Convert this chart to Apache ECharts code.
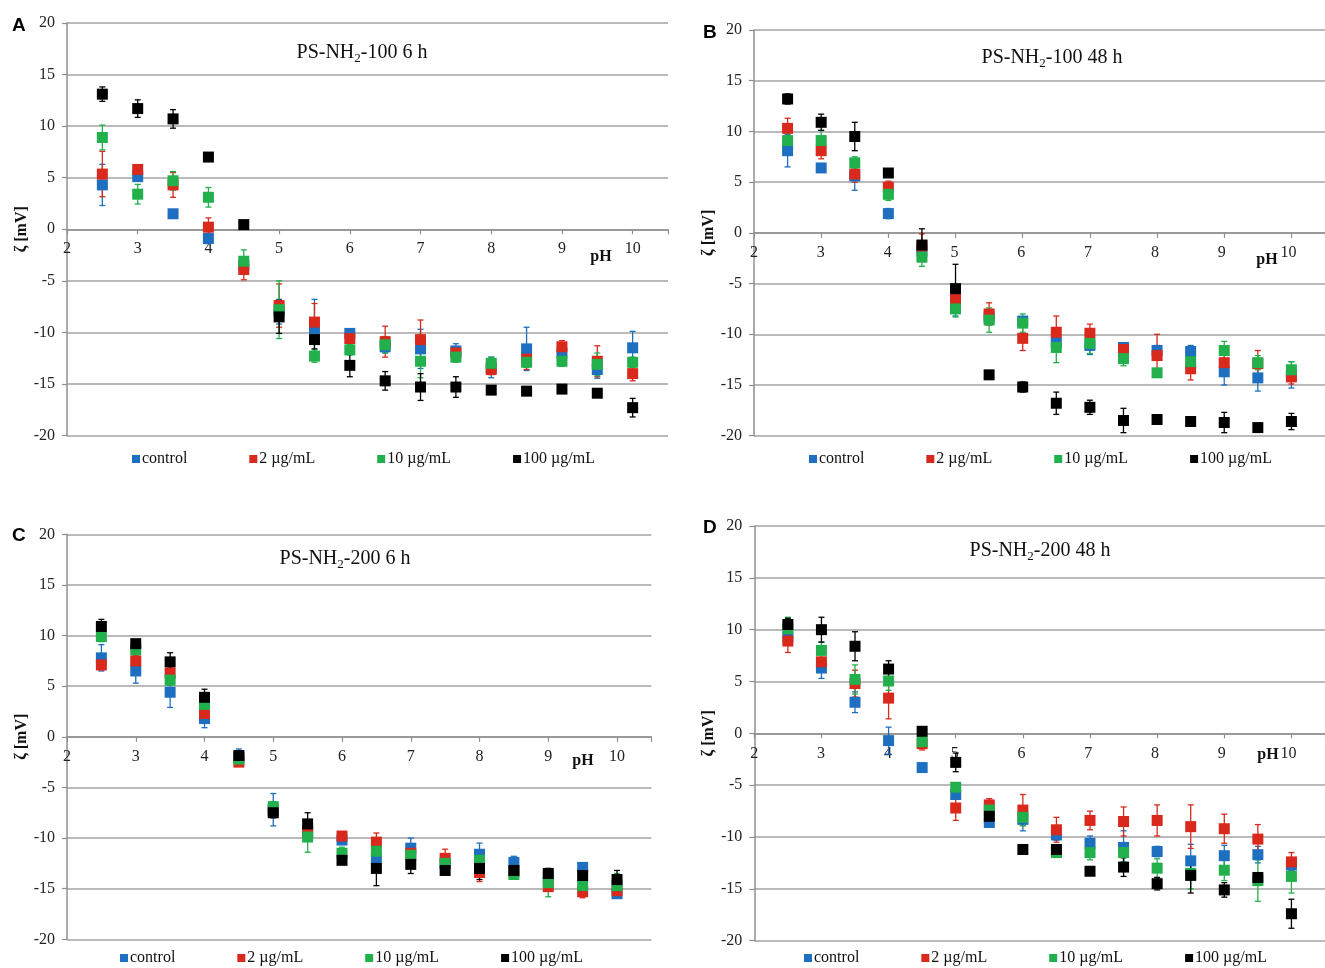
<!DOCTYPE html>
<html><head><meta charset="utf-8">
<script src="https://cdn.jsdelivr.net/npm/echarts@6/dist/echarts.min.js"></script>
<style>html,body{margin:0;padding:0;background:#fff}#c{width:1325px;height:968px}</style>
</head><body><div id="c"></div>
<script>
// ---- data ----
const pH = [2.5,3,3.5,4,4.5,5,5.5,6,6.5,7,7.5,8,8.5,9,9.5,10];
const seriesNames = ['control','2 µg/mL','10 µg/mL','100 µg/mL'];
const yTicks = [-20,-15,-10,-5,0,5,10,15,20];

// Panel A: PS-NH2-100 6 h
const A_control    = [4.3, 5.1, 1.5, -0.9, -3.5, -8.0, -9.7, -10.1, -11.4, -11.6, -11.8, -13.4, -11.6, -12.0, -13.6, -11.5];
const A_controlErr = [2.0, 0.3, 0.4, 0.5, 0.5, 1.2, 2.9, 0.4, 0.6, 1.9, 0.7, 1.0, 2.1, 0.3, 0.85, 1.6];
const A_c2         = [5.35, 5.8, 4.3, 0.2, -3.9, -7.4, -9.0, -10.6, -10.9, -10.7, -12.0, -13.6, -12.6, -11.4, -12.8, -14.0];
const A_c2Err      = [2.2, 0.4, 1.2, 0.9, 1.0, 2.1, 1.8, 0.5, 1.5, 1.9, 0.5, 0.5, 1.0, 0.6, 1.5, 0.7];
const A_c10        = [8.9, 3.4, 4.7, 3.1, -3.1, -7.8, -12.3, -11.7, -11.2, -12.8, -12.4, -13.0, -12.9, -12.8, -13.1, -12.9];
const A_c10Err     = [1.2, 0.95, 0.9, 0.95, 1.1, 2.8, 0.6, 0.5, 0.8, 1.6, 0.5, 0.6, 0.5, 0.5, 1.1, 0.5];
const A_c100       = [13.1, 11.7, 10.7, 7.0, 0.45, -8.5, -10.7, -13.2, -14.7, -15.3, -15.3, -15.6, -15.7, -15.5, -15.9, -17.3];
const A_c100Err    = [0.7, 0.85, 0.9, 0.2, 0.2, 1.6, 0.9, 1.1, 0.9, 1.3, 1.0, 0.3, 0.4, 0.4, 0.2, 0.9];

// Panel B: PS-NH2-100 48 h
const B_control    = [8.1, 6.4, 5.6, 1.9, -1.8, -7.2, -8.3, -8.7, -10.8, -11.1, -11.3, -11.6, -11.7, -13.7, -14.3, -14.0];
const B_controlErr = [1.6, 0.3, 1.4, 0.5, 0.6, 1.0, 0.6, 0.4, 0.5, 0.9, 0.3, 0.5, 0.6, 1.3, 1.3, 1.3];
const B_c2         = [10.3, 8.1, 5.8, 4.5, -1.3, -6.5, -8.0, -10.4, -9.8, -9.9, -11.5, -12.1, -13.4, -12.8, -12.9, -14.2];
const B_c2Err      = [1.0, 0.8, 0.8, 0.6, 1.2, 1.0, 1.1, 1.2, 1.6, 0.9, 0.4, 2.1, 1.1, 0.9, 1.3, 0.7];
const B_c10        = [9.1, 9.1, 6.9, 3.8, -2.4, -7.5, -8.6, -8.9, -11.3, -10.9, -12.4, -13.8, -12.7, -11.6, -12.8, -13.5];
const B_c10Err     = [0.8, 1.0, 0.6, 0.6, 0.9, 0.8, 1.2, 0.9, 1.5, 1.0, 0.7, 0.4, 0.6, 0.9, 0.7, 0.8];
const B_c100       = [13.2, 10.9, 9.5, 5.9, -1.2, -5.5, -14.0, -15.2, -16.8, -17.2, -18.5, -18.4, -18.6, -18.7, -19.2, -18.6];
const B_c100Err    = [0.5, 0.8, 1.4, 0.3, 1.6, 2.4, 0.3, 0.5, 1.1, 0.7, 1.2, 0.4, 0.4, 1.0, 0.3, 0.8];

// Panel C: PS-NH2-200 6 h
const C_control    = [7.8, 6.5, 4.4, 1.8, -2.0, -7.2, -9.5, -10.2, -12.1, -11.0, -12.5, -11.6, -12.4, -13.8, -12.9, -15.5];
const C_controlErr = [1.3, 1.2, 1.5, 0.9, 0.8, 1.6, 0.5, 0.4, 0.6, 1.0, 0.5, 1.1, 0.6, 0.5, 0.3, 0.3];
const C_c2         = [7.1, 7.5, 6.3, 2.3, -2.5, -7.3, -9.3, -9.8, -10.4, -11.5, -12.0, -13.4, -13.3, -14.8, -15.3, -15.2];
const C_c2Err      = [0.5, 0.5, 0.5, 0.5, 0.4, 0.5, 0.5, 0.3, 0.9, 0.5, 0.9, 0.9, 0.5, 0.4, 0.6, 0.6];
const C_c10        = [9.9, 8.6, 5.6, 3.2, -2.2, -6.9, -9.9, -11.5, -11.3, -11.7, -12.5, -12.2, -13.6, -14.4, -14.7, -14.7];
const C_c10Err     = [0.5, 0.4, 0.5, 0.5, 0.5, 0.5, 1.5, 0.6, 0.6, 0.5, 0.5, 0.5, 0.4, 1.4, 0.5, 1.2];
const C_c100       = [10.9, 9.2, 7.4, 3.9, -1.85, -7.5, -8.6, -12.2, -13.0, -12.6, -13.2, -13.0, -13.2, -13.5, -13.7, -14.1];
const C_c100Err    = [0.7, 0.3, 0.9, 0.8, 0.3, 0.5, 1.1, 0.4, 1.7, 0.9, 0.4, 1.1, 0.8, 0.5, 0.4, 0.9];

// Panel D: PS-NH2-200 48 h
const D_control    = [9.3, 6.3, 3.0, -0.7, -3.3, -5.9, -8.6, -8.3, -9.8, -10.6, -11.0, -11.4, -12.3, -11.8, -11.7, -12.7];
const D_controlErr = [0.8, 1.0, 1.0, 1.3, 0.2, 0.4, 0.4, 1.1, 0.5, 0.7, 1.6, 0.5, 1.6, 1.0, 0.8, 0.5];
const D_c2         = [8.9, 6.9, 4.8, 3.4, -1.0, -7.2, -6.9, -7.4, -9.3, -8.4, -8.5, -8.4, -9.0, -9.2, -10.2, -12.4];
const D_c2Err      = [1.1, 0.9, 1.3, 2.0, 0.6, 1.2, 0.6, 1.5, 1.2, 0.9, 1.4, 1.5, 2.1, 1.4, 1.4, 0.9];
const D_c10        = [10.1, 8.0, 5.2, 5.05, -0.8, -5.2, -7.4, -8.1, -11.5, -11.5, -11.5, -13.0, -13.5, -13.2, -14.2, -13.8];
const D_c10Err     = [1.1, 0.8, 1.4, 0.9, 0.5, 0.4, 0.5, 0.8, 0.4, 0.7, 0.9, 0.9, 1.5, 1.0, 2.0, 1.6];
const D_c100       = [10.5, 10.0, 8.4, 6.2, 0.2, -2.8, -8.0, -11.2, -11.2, -13.3, -12.9, -14.5, -13.7, -15.1, -13.9, -17.4];
const D_c100Err    = [0.6, 1.2, 1.4, 0.8, 0.2, 0.9, 1.0, 0.3, 0.4, 0.3, 0.9, 0.6, 1.7, 0.7, 0.3, 1.4];

const panelLetters = ['A','B','C','D'];
const titleSuffix = ['-100 6 h','-100 48 h','-200 6 h','-200 48 h'];
const panelValues = [
  [[A_control,A_controlErr],[A_c2,A_c2Err],[A_c10,A_c10Err],[A_c100,A_c100Err]],
  [[B_control,B_controlErr],[B_c2,B_c2Err],[B_c10,B_c10Err],[B_c100,B_c100Err]],
  [[C_control,C_controlErr],[C_c2,C_c2Err],[C_c10,C_c10Err],[C_c100,C_c100Err]],
  [[D_control,D_controlErr],[D_c2,D_c2Err],[D_c10,D_c10Err],[D_c100,D_c100Err]]
];

// ---- layout / style ----
const colors = ['#1f6fc1','#d9281c','#21b04b','#000000'];
const SERIF = '"Liberation Serif","Times New Roman",serif';
const layout = [
  {grid:{left:67, top:23, width:601, height:412.5}, title:[362,41], letter:[12,16], pH:[601,257], legend:[132,451]},
  {grid:{left:754, top:30, width:582, height:405.7}, title:[1052,46], letter:[703,23], pH:[1267,260], legend:[809,451]},
  {grid:{left:67, top:534.3, width:584.4, height:405}, title:[345,547], letter:[12,526], pH:[583,761], legend:[120,950]},
  {grid:{left:754.3, top:526, width:580.6, height:414.7}, title:[1040,539], letter:[703,518], pH:[1268,755], legend:[804,950]}
];
const N = layout.length;

function renderErr(params, api) {
  const x = api.value(0), lo = api.value(1), hi = api.value(2);
  const p1 = api.coord([x, hi]), p2 = api.coord([x, lo]);
  const w = 3;
  const style = {stroke: api.visual('color'), lineWidth: 1.3};
  return {type:'group', children:[
    {type:'line', shape:{x1:p1[0], y1:p1[1], x2:p2[0], y2:p2[1]}, style},
    {type:'line', shape:{x1:p1[0]-w, y1:p1[1], x2:p1[0]+w, y2:p1[1]}, style},
    {type:'line', shape:{x1:p2[0]-w, y1:p2[1], x2:p2[0]+w, y2:p2[1]}, style}
  ]};
}
const intLabel = v => (Math.abs(v - Math.round(v)) < 1e-6 ? String(Math.round(v)) : '');

const grids = [], xAxes = [], yAxes = [], series = [], titles = [], legends = [], graphics = [];
layout.forEach((L, pi) => {
  grids.push(Object.assign({containLabel:false}, L.grid));
  xAxes.push({
    type:'value', gridIndex:pi, min:2, max:10.5, interval:1,
    axisLine:{onZero:true, lineStyle:{color:'#8f8f8f', width:1.5}},
    axisTick:{show:true, length:5, lineStyle:{color:'#8f8f8f', width:1.2}},
    axisLabel:{show:false},
    splitLine:{show:false}
  });
  yAxes.push({
    type:'value', gridIndex:pi, min:-20, max:20, interval:5,
    name:'ζ [mV]', nameLocation:'middle', nameRotate:90, nameGap:26,
    nameTextStyle:{fontFamily:SERIF, fontSize:16, fontWeight:'bold', color:'#111'},
    axisLine:{show:true, lineStyle:{color:'#8f8f8f', width:1.5}},
    axisTick:{show:true, length:5, lineStyle:{color:'#8f8f8f', width:1.2}},
    axisLabel:{margin:12, fontFamily:SERIF, fontSize:16, color:'#222'},
    splitLine:{show:true, lineStyle:{color:'#a3a3a3', width:1.5}}
  });
  panelValues[pi].forEach(([vals, errs], si) => {
    series.push({
      type:'custom', name:'err'+pi+'_'+si, xAxisIndex:pi, yAxisIndex:pi,
      renderItem: renderErr, itemStyle:{color:colors[si]},
      encode:{x:0, y:[1,2]}, silent:true,
      data: pH.map((x, k) => [x, vals[k]-errs[k], vals[k]+errs[k]])
    });
    series.push({
      type:'scatter', name:seriesNames[si], xAxisIndex:pi, yAxisIndex:pi,
      symbol:'rect', symbolSize:11, itemStyle:{color:colors[si], opacity:1},
      data: pH.map((x, k) => [x, vals[k]])
    });
  });
  titles.push({
    text:'{a|PS-NH}{s|2}{a|' + titleSuffix[pi] + '}',
    left:L.title[0], top:L.title[1], textAlign:'center', padding:0,
    textStyle:{fontWeight:'normal', rich:{
      a:{fontFamily:SERIF, fontSize:20, fontWeight:'normal', color:'#111', lineHeight:24, verticalAlign:'middle'},
      s:{fontFamily:SERIF, fontSize:13, fontWeight:'normal', color:'#111', lineHeight:13, verticalAlign:'bottom'}
    }}
  });
  legends.push({
    data:seriesNames, left:L.legend[0], top:L.legend[1], icon:'rect',
    itemWidth:8, itemHeight:8, itemGap:62, padding:0, selectedMode:false,
    textStyle:{fontFamily:SERIF, fontSize:16, color:'#111', padding:[0,0,0,-3]}
  });
  graphics.push({type:'text', left:L.letter[0], top:L.letter[1],
    style:{text:panelLetters[pi], font:'bold 19px "Liberation Sans", Arial, sans-serif', fill:'#000'}});
  graphics.push({type:'text', x:L.pH[0], y:L.pH[1],
    style:{text:'pH', font:'bold 16px ' + SERIF, fill:'#111', align:'center', verticalAlign:'middle'}});
});
// Label-only x axes: a grid covering the upper half of each panel, so its bottom edge is the zero line
layout.forEach((L, pi) => {
  grids.push({left:L.grid.left, top:L.grid.top, width:L.grid.width, height:L.grid.height/2, containLabel:false});
  xAxes.push({
    type:'value', gridIndex:N+pi, min:2, max:10.5, interval:1, position:'bottom',
    axisLine:{show:false}, axisTick:{show:false}, splitLine:{show:false},
    axisLabel:{margin:12, fontFamily:SERIF, fontSize:16, color:'#222', formatter:intLabel}
  });
  yAxes.push({type:'value', gridIndex:N+pi, min:0, max:20, show:false});
});

const chart = echarts.init(document.getElementById('c'), null, {renderer:'canvas'});
chart.setOption({
  animation:false, backgroundColor:'#fff',
  grid:grids, xAxis:xAxes, yAxis:yAxes, series:series,
  title:titles, legend:legends, graphic:graphics
});
</script></body></html>
